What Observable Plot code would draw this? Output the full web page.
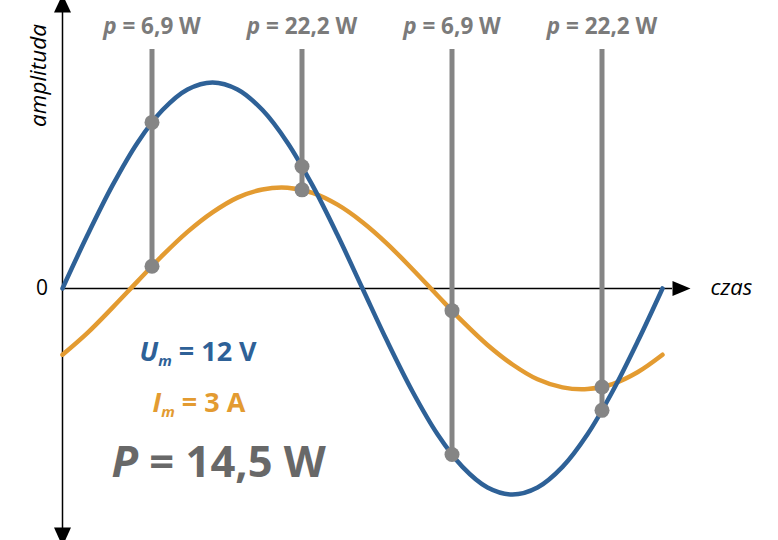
<!DOCTYPE html>
<html>
<head>
<meta charset="utf-8">
<script src="https://cdn.jsdelivr.net/npm/d3@7"></script>
<script src="https://cdn.jsdelivr.net/npm/@observablehq/plot@0.6"></script>
<style>
  html, body { margin: 0; padding: 0; background: #fff; }
  #chart { width: 778px; height: 540px; }
</style>
</head>
<body>
<div id="chart"></div>
<script>
// ---- data ----
// time axis ("czas") sampled every 15° of one period
const timeDeg = [0, 15, 30, 45, 60, 75, 90, 105, 120, 135, 150, 165, 180,
                 195, 210, 225, 240, 255, 270, 285, 300, 315, 330, 345, 360];
// voltage u(t) in V
const voltage = [0, 3.11, 6.00, 8.49, 10.39, 11.59, 12.00, 11.59, 10.39, 8.49, 6.00, 3.11, 0,
                 -3.11, -6.00, -8.49, -10.39, -11.59, -12.00, -11.59, -10.39, -8.49, -6.00, -3.11, 0];
// current i(t) in A
const current = [-1.97, -1.32, -0.57, 0.21, 0.98, 1.68, 2.26, 2.70, 2.94, 2.99, 2.84, 2.49, 1.97,
                 1.32, 0.57, -0.21, -0.98, -1.68, -2.26, -2.70, -2.94, -2.99, -2.84, -2.49, -1.97];
// instantaneous power probes
const probeTime = [53.7, 143.7, 233.7, 323.7];
const probeVoltage = [9.67, 7.10, -9.67, -7.10];
const probeCurrent = [0.66, 2.93, -0.66, -2.93];
const probeLabels = ["p = 6,9 W", "p = 22,2 W", "p = 6,9 W", "p = 22,2 W"];
// summary values
const Um = 12, Im = 3, Pavg = "14,5";

// ---- display settings ----
const currentScale = 1.96;      // display scale of the current curve against the voltage
const yMin = -14.68, yMax = 16.77, yTop = 13.92;
const blue = "#2e6197", orange = "#e39b31", gray = "#858585";

const samples = timeDeg.map((t, k) => ({t, u: voltage[k], i: current[k] * currentScale}));
const probes = probeTime.map((t, k) => ({
  t, u: probeVoltage[k], i: probeCurrent[k] * currentScale, label: probeLabels[k]
}));
const probeDots = probes.flatMap(d => [{t: d.t, y: d.u}, {t: d.t, y: d.i}]);

const arrowUp = {draw(c) { c.moveTo(0, -9); c.lineTo(8.5, 9); c.lineTo(-8.5, 9); c.closePath(); }};
const arrowDown = {draw(c) { c.moveTo(0, 9.5); c.lineTo(-8.5, -9.5); c.lineTo(8.5, -9.5); c.closePath(); }};
const arrowRight = {draw(c) { c.moveTo(9, 0); c.lineTo(-9, -7.5); c.lineTo(-9, 7.5); c.closePath(); }};

const svg = Plot.plot({
  width: 778,
  height: 540,
  marginLeft: 62,
  marginRight: 116,
  marginTop: 0,
  marginBottom: 0,
  x: {domain: [0, 360], axis: null},
  y: {domain: [yMin, yMax], axis: null},
  style: {fontFamily: "'Open Sans', sans-serif", background: "white", overflow: "hidden"},
  marks: [
    // axes
    Plot.ruleX([0], {y1: yMin, y2: yMax, stroke: "black", strokeWidth: 1.5}),
    Plot.ruleY([0], {x1: 0, x2: 366, stroke: "black", strokeWidth: 1.5}),
    Plot.dot([{t: 0, y: 16.6}], {x: "t", y: "y", symbol: arrowUp, fill: "black", stroke: null}),
    Plot.dot([{t: 0, y: -14.47}], {x: "t", y: "y", symbol: arrowDown, fill: "black", stroke: null}),
    Plot.dot([{t: 371.4, y: 0}], {x: "t", y: "y", symbol: arrowRight, fill: "black", stroke: null}),
    // curves
    Plot.line(samples, {x: "t", y: "i", stroke: orange, strokeWidth: 4.5, curve: "catmull-rom"}),
    Plot.line(samples, {x: "t", y: "u", stroke: blue, strokeWidth: 4.5, curve: "catmull-rom"}),
    // probe lines and dots
    Plot.ruleX(probes, {x: "t", y1: d => Math.min(d.u, d.i), y2: yTop, stroke: gray, strokeWidth: 5}),
    Plot.dot(probeDots, {x: "t", y: "y", r: 7.5, fill: gray, stroke: null}),
    Plot.text(probes, {x: "t", y: 15.26, text: "label", fill: "#7b7b7b", fontSize: 22.5, fontWeight: "bold", textAnchor: "middle"}),
    // axis labels
    Plot.text(["0"], {x: -12.3, y: 0, fill: "black", fontSize: 21, textAnchor: "middle"}),
    Plot.text(["czas"], {x: 388.8, y: 0, fill: "black", fontSize: 22, fontStyle: "italic", textAnchor: "start"}),
    Plot.text(["amplituda"], {x: -14.4, y: 12.4, fill: "black", fontSize: 22.5, fontStyle: "italic", rotate: -90}),
    // summary
    Plot.text([`U_m = ${Um} V`], {x: 46.2, y: -3.73, fill: blue, fontSize: 27, fontWeight: "bold", textAnchor: "start"}),
    Plot.text([`I_m = ${Im} A`], {x: 54, y: -6.7, fill: orange, fontSize: 27, fontWeight: "bold", textAnchor: "start"}),
    Plot.text([`P = ${Pavg} W`], {x: 29.4, y: -10.19, fill: "#686868", fontSize: 43.5, fontWeight: "bold", textAnchor: "start"})
  ]
});

// rich text: italic symbols and subscripts
d3.select(svg).selectAll("text").each(function () {
  const s = this.textContent;
  const t = d3.select(this);
  let m = s.match(/^([A-Za-z])_([a-z]) (.*)$/);
  if (m) {
    t.text(null);
    t.append("tspan").attr("font-style", "italic").text(m[1]);
    t.append("tspan").attr("font-style", "italic").attr("font-size", "15px").attr("dy", 5).text(m[2]);
    t.append("tspan").attr("dy", -5).text(" " + m[3]);
    return;
  }
  m = s.match(/^([pP]) (= .*)$/);
  if (m) {
    t.text(null);
    t.append("tspan").attr("font-style", "italic").text(m[1]);
    t.append("tspan").text(" " + m[2]);
  }
});

document.getElementById("chart").appendChild(svg);
</script>
</body>
</html>
